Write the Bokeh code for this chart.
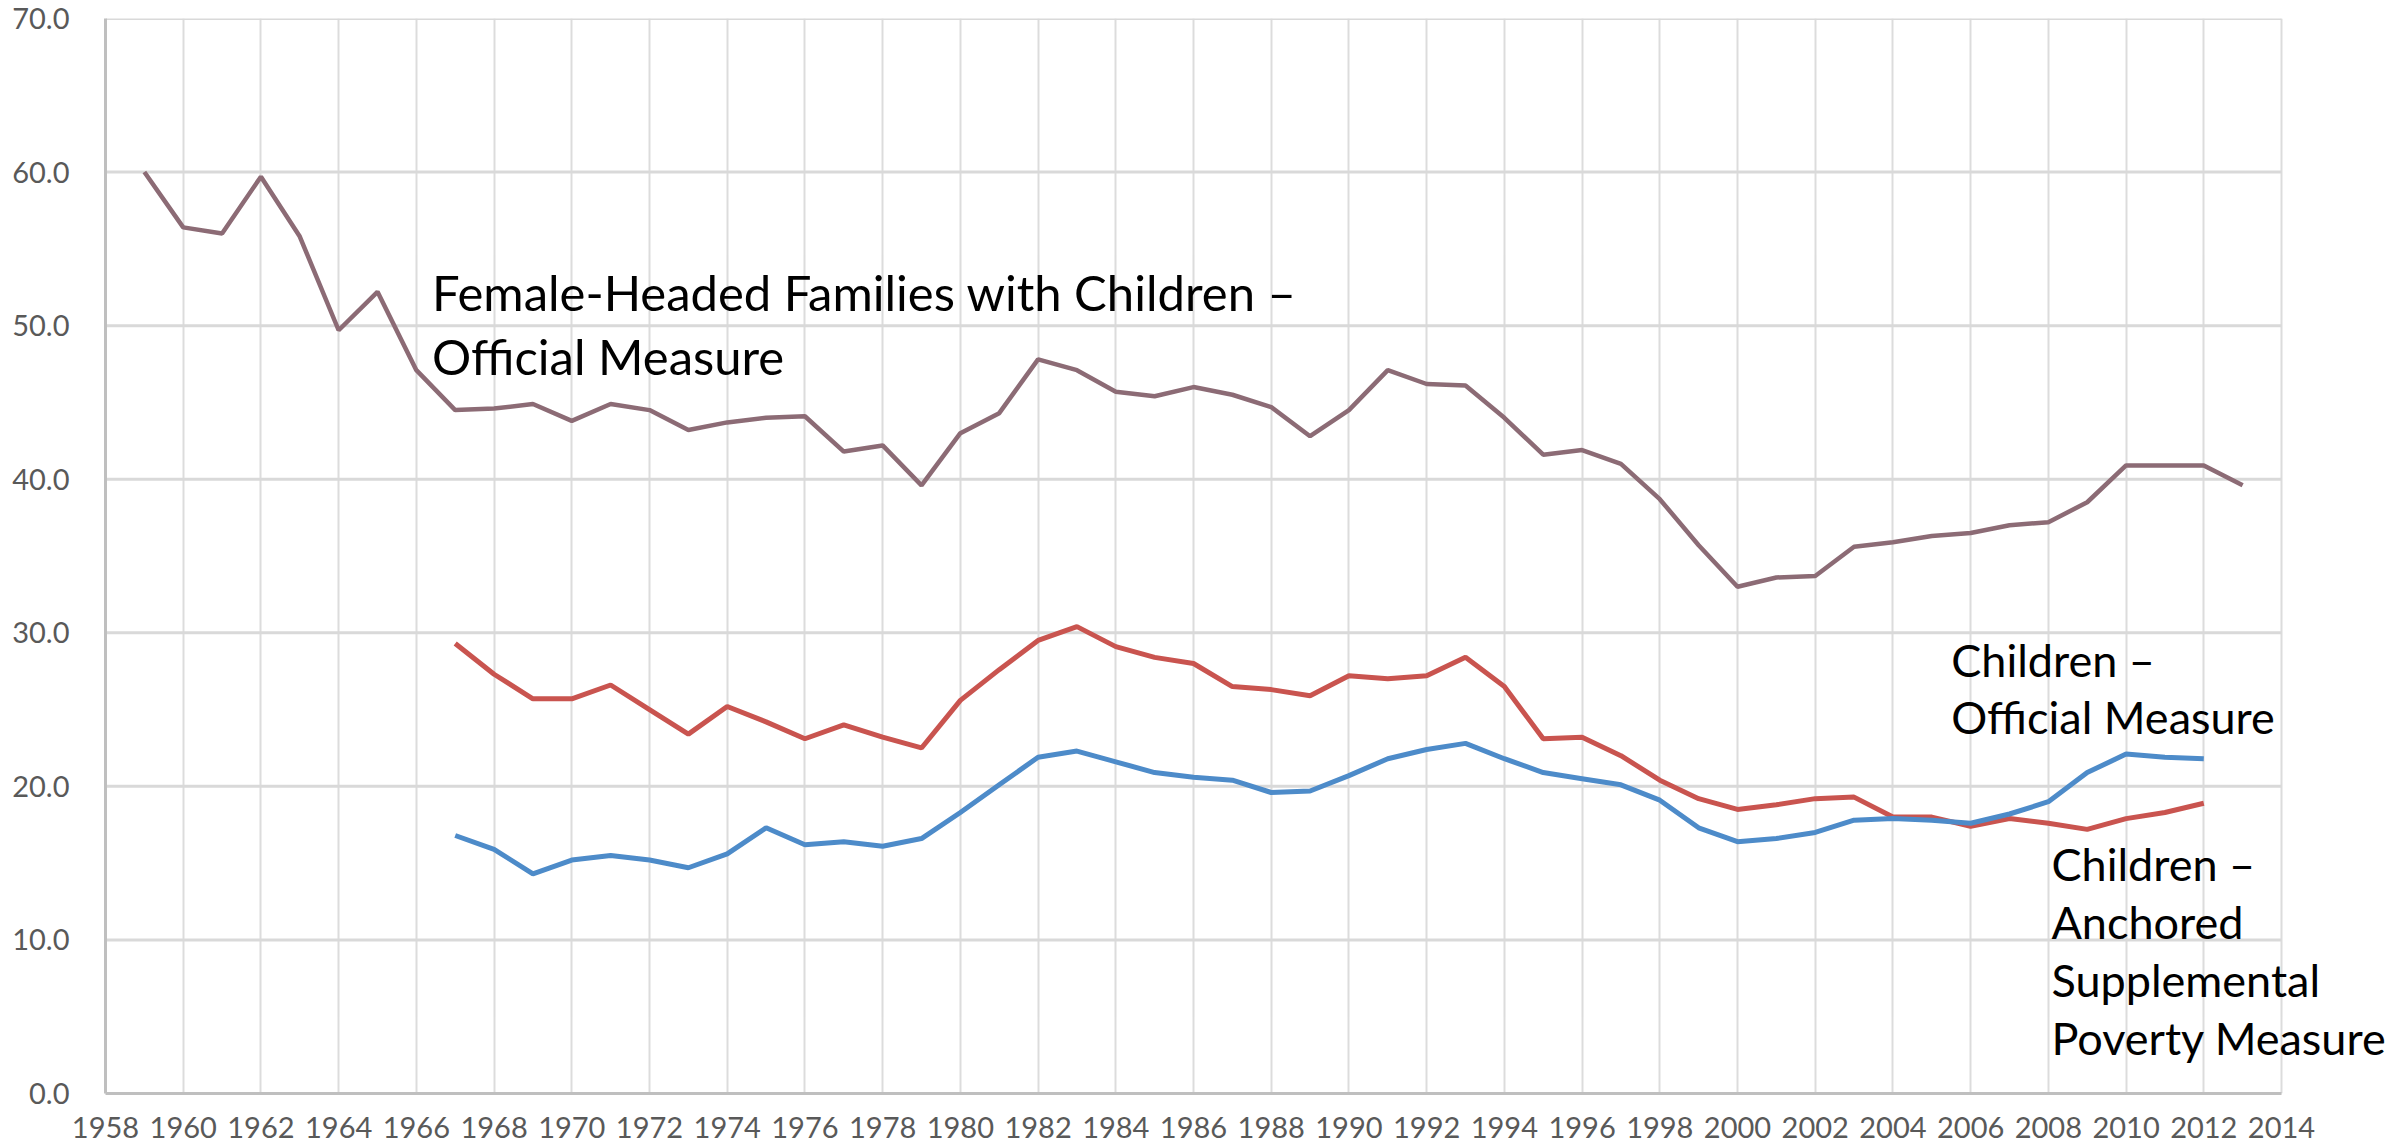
from bokeh.plotting import figure
from bokeh.models import FixedTicker, PrintfTickFormatter, Range1d, Label
from bokeh.embed import file_html
from bokeh.resources import INLINE

# ---------------- data ----------------
years_female = list(range(1959, 2014))
female_official = [
    60.0, 56.4, 56.0, 59.7, 55.8, 49.7, 52.2, 47.1, 44.5, 44.6,
    44.9, 43.8, 44.9, 44.5, 43.2, 43.7, 44.0, 44.1, 41.8, 42.2,
    39.6, 43.0, 44.3, 47.8, 47.1, 45.7, 45.4, 46.0, 45.5, 44.7,
    42.8, 44.5, 47.1, 46.2, 46.1, 44.0, 41.6, 41.9, 41.0, 38.7,
    35.7, 33.0, 33.6, 33.7, 35.6, 35.9, 36.3, 36.5, 37.0, 37.2,
    38.5, 40.9, 40.9, 40.9, 39.6,
]

years_children = list(range(1967, 2013))
children_anchored_spm = [
    29.3, 27.3, 25.7, 25.7, 26.6, 25.0, 23.4, 25.2, 24.2, 23.1,
    24.0, 23.2, 22.5, 25.6, 27.6, 29.5, 30.4, 29.1, 28.4, 28.0,
    26.5, 26.3, 25.9, 27.2, 27.0, 27.2, 28.4, 26.5, 23.1, 23.2,
    22.0, 20.4, 19.2, 18.5, 18.8, 19.2, 19.3, 18.0, 18.0, 17.4,
    17.9, 17.6, 17.2, 17.9, 18.3, 18.9,
]
children_official = [
    16.8, 15.9, 14.3, 15.2, 15.5, 15.2, 14.7, 15.6, 17.3, 16.2,
    16.4, 16.1, 16.6, 18.3, 20.1, 21.9, 22.3, 21.6, 20.9, 20.6,
    20.4, 19.6, 19.7, 20.7, 21.8, 22.4, 22.8, 21.8, 20.9, 20.5,
    20.1, 19.1, 17.3, 16.4, 16.6, 17.0, 17.8, 17.9, 17.8, 17.6,
    18.2, 19.0, 20.9, 22.1, 21.9, 21.8,
]

x_ticks = list(range(1958, 2015, 2))
y_ticks = [0, 10, 20, 30, 40, 50, 60, 70]

# annotation texts and their anchor positions (data units)
female_label_texts = ["Female-Headed Families with Children \u2013", "Official Measure"]
female_label_x = [1966.4, 1966.4]
female_label_y = [52.2, 48.0]

children_label_texts = [
    "Children \u2013",
    "Official Measure",
    "Children \u2013",
    "Anchored",
    "Supplemental",
    "Poverty Measure",
]
children_label_x = [2005.5, 2005.5, 2008.08, 2008.08, 2008.08, 2008.08]
children_label_y = [28.2, 24.5, 14.95, 11.2, 7.4, 3.6]

# ---------------- figure ----------------
FONT = "Lato"
X_MIN, X_MAX = x_ticks[0], x_ticks[-1]
# frame continues past the last year so the right-hand labels are not clipped
X_VIEW_END = X_MAX + 114 / (2176 / (X_MAX - X_MIN))

p = figure(
    width=2395, height=1145,
    x_range=Range1d(X_MIN, X_VIEW_END), y_range=Range1d(0, 70),
    output_backend="svg", toolbar_location=None,
    min_border_left=105, min_border_right=0,
    min_border_top=18, min_border_bottom=52,
)
p.outline_line_color = None
p.background_fill_color = "white"
p.border_fill_color = "white"

for ax in (p.xaxis[0], p.yaxis[0]):
    ax.axis_line_color = "#bfbfbf"
    ax.axis_line_width = 3
    ax.major_tick_line_color = None
    ax.minor_tick_line_color = None
    ax.major_label_text_font = FONT
    ax.major_label_text_font_size = "29px"
    ax.major_label_text_color = "#595959"

p.xaxis.bounds = (X_MIN, X_MAX)
p.xaxis.ticker = FixedTicker(ticks=x_ticks)
p.yaxis.ticker = FixedTicker(ticks=y_ticks)
p.yaxis.formatter = PrintfTickFormatter(format="%.1f")
p.xaxis.major_label_standoff = 17
p.yaxis.major_label_standoff = 30

p.xgrid.ticker = FixedTicker(ticks=x_ticks)
p.xgrid.grid_line_color = "#dcdcdc"
p.xgrid.grid_line_width = 2
p.ygrid.visible = False

# horizontal gridlines, limited to the plotted year span
p.segment(x0=[X_MIN] * len(y_ticks), y0=y_ticks,
          x1=[X_MAX] * len(y_ticks), y1=y_ticks,
          line_color="#d9d9d9", line_width=3)

p.line(years_female, female_official, line_color="#8c6b75", line_width=4.5)
p.line(years_children, children_anchored_spm, line_color="#c9544f", line_width=5)
p.line(years_children, children_official, line_color="#4d8bc9", line_width=5)

def add_labels(texts, xs, ys, size):
    for tx, lx, ly in zip(texts, xs, ys):
        p.add_layout(Label(x=lx, y=ly, text=tx,
                           text_font=FONT, text_font_size=size,
                           text_color="black", text_baseline="alphabetic",
                           text_align="left"))

add_labels(female_label_texts, female_label_x, female_label_y, "49px")
add_labels(children_label_texts, children_label_x, children_label_y, "45px")

open("out.html", "w").write(file_html(p, INLINE))
